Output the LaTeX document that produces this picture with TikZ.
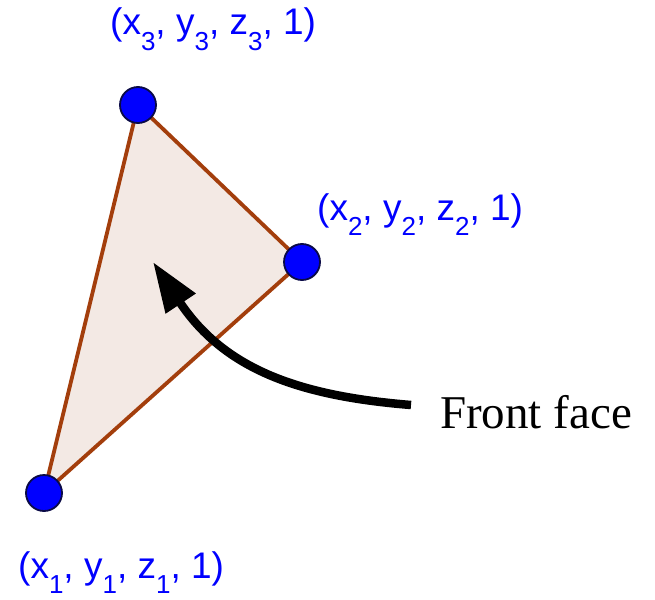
\documentclass[tikz,border=0pt]{standalone}
\usepackage{fontspec}
\setmainfont{Liberation Serif}
\newfontfamily\labfont{Liberation Sans}
\usetikzlibrary{arrows.meta}
\definecolor{facefill}{RGB}{243,233,228}
\definecolor{edgebrown}{RGB}{163,62,12}
\definecolor{ptblue}{RGB}{0,0,255}
\definecolor{ptedge}{RGB}{10,10,70}
\newcommand{\sbx}[1]{\raisebox{-0.42em}{\fontsize{26}{26}\selectfont #1}}
\newcommand{\vlab}[1]{(x\sbx{#1}, y\sbx{#1}, z\sbx{#1}, 1)}
\begin{document}
\begin{tikzpicture}[x=1pt,y=-1pt,
  vertex/.style={circle,fill=ptblue,draw=ptedge,line width=1.8pt,minimum size=36pt,inner sep=0pt},
  vlabel/.style={anchor=base west,inner sep=0pt,text=ptblue,font=\labfont\fontsize{37}{37}\selectfont},
  facestyle/.style={fill=facefill,draw=edgebrown,line width=3.8pt,line join=round},
  pointer/.style={line width=8.5pt,-{Triangle[length=50pt,width=34pt]}},
  textlabel/.style={anchor=base west,inner sep=0pt,font=\fontsize{47}{47}\selectfont}]
\useasboundingbox (0,0) rectangle (655,599);
\coordinate (c1) at (44,493);
\coordinate (c2) at (302,262);
\coordinate (c3) at (138,105);
\path[facestyle] (c1) -- (c2) -- (c3) -- cycle;
\node[vertex] (p1) at (c1) {};
\node[vertex] (p2) at (c2) {};
\node[vertex] (p3) at (c3) {};
\node[vlabel] (l3) at (110,35) {\vlab{3}};
\node[vlabel] (l2) at (317,220) {\vlab{2}};
\node[vlabel] (l1) at (18,578) {\vlab{1}};
\node[textlabel] (ff) at (440,428) {Front face};
\coordinate (start) at (411,405);
\coordinate (tip) at (153,262);
\draw[pointer] (start) .. controls (300,396) and (225,370) .. (tip);
\end{tikzpicture}
\end{document}
